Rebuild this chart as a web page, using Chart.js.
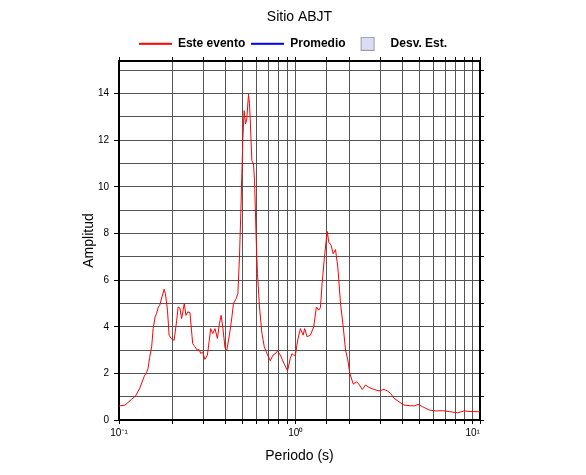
<!DOCTYPE html>
<html>
<head>
<meta charset="utf-8">
<script src="https://cdn.jsdelivr.net/npm/chart.js@4.4.1/dist/chart.umd.min.js"></script>
<style>
  html, body { margin: 0; padding: 0; background: #fff; }
  canvas { display: block; }
</style>
</head>
<body>
<canvas id="myChart" width="586" height="475"></canvas>
<script>
const chartTitle = "Sitio ABJT";
const seriesNames = ["Este evento", "Promedio", "Desv. Est."];

// periodo (s)
const periods = [
  0.100, 0.108, 0.118, 0.124, 0.131, 0.139, 0.143, 0.146, 0.149, 0.153,
  0.156, 0.160, 0.163, 0.167, 0.170, 0.175, 0.180, 0.183, 0.188, 0.192,
  0.197, 0.205, 0.212, 0.216, 0.221, 0.226, 0.234, 0.239, 0.245, 0.252,
  0.261, 0.269, 0.277, 0.284, 0.290, 0.297, 0.306, 0.316, 0.324, 0.330,
  0.339, 0.349, 0.360, 0.370, 0.378, 0.386, 0.398, 0.407, 0.421, 0.435,
  0.444, 0.460, 0.470, 0.480, 0.489, 0.495, 0.502, 0.510, 0.519, 0.528,
  0.540, 0.547, 0.552, 0.564, 0.576, 0.584, 0.597, 0.607, 0.623, 0.643,
  0.663, 0.687, 0.717, 0.742, 0.775, 0.788, 0.817, 0.860, 0.898, 0.931,
  0.952, 0.972, 0.994, 1.024, 1.061, 1.099, 1.122, 1.158, 1.209, 1.262,
  1.307, 1.347, 1.377, 1.408, 1.451, 1.504, 1.535, 1.584, 1.626, 1.676,
  1.727, 1.789, 1.853, 1.910, 1.968, 2.020, 2.112, 2.205, 2.272, 2.375,
  2.480, 2.590, 2.764, 2.951, 3.150, 3.293, 3.438, 3.591, 3.833, 4.091,
  4.465, 4.704, 4.913, 5.204, 5.672, 6.190, 6.756, 7.365, 8.221, 8.964,
  9.781, 10.68, 11.0
];

const amplitudes = [
  0.60, 0.64, 0.89, 1.03, 1.36, 1.88, 2.03, 2.21, 2.68, 3.14,
  3.92, 4.42, 4.57, 4.85, 4.92, 5.28, 5.61, 5.42, 4.71, 3.64,
  3.50, 3.42, 4.28, 4.85, 4.80, 4.35, 5.00, 4.49, 4.64, 4.60,
  3.28, 3.14, 3.00, 3.02, 2.85, 2.92, 2.60, 2.78, 3.42, 3.92,
  3.71, 3.92, 3.50, 4.14, 4.49, 4.00, 3.07, 3.00, 3.64, 4.42,
  5.00, 5.21, 5.42, 6.99, 8.99, 10.56, 12.13, 13.27, 12.70, 12.91,
  13.98, 13.56, 12.91, 11.13, 10.99, 10.27, 7.71, 6.28, 4.85, 3.71,
  3.14, 2.85, 2.54, 2.78, 2.88, 2.97, 2.78, 2.40, 2.11, 2.65,
  2.85, 2.78, 2.78, 3.42, 3.92, 3.64, 3.92, 3.57, 3.64, 4.00,
  4.85, 4.71, 4.82, 5.85, 6.99, 8.09, 7.63, 7.49, 7.13, 7.31,
  6.56, 5.00, 4.00, 3.00, 2.57, 2.00, 1.54, 1.64, 1.54, 1.31,
  1.50, 1.40, 1.31, 1.25, 1.31, 1.25, 1.14, 0.93, 0.78, 0.64,
  0.61, 0.61, 0.67, 0.57, 0.43, 0.39, 0.40, 0.36, 0.31, 0.39,
  0.36, 0.36, 0.34
];

// no data drawn for these two, they only appear in the legend
const promedio = [];
const desvEst = [];

const xMin = 0.1, xMax = 11.0;
const yMin = 0, yMax = 15.4;
const decadeLabels = { "-1": "10\u207B\u00B9", "0": "10\u2070", "1": "10\u00B9" };

const FONT = "'Liberation Sans', Arial, Helvetica, sans-serif";
const GRID = "#555";

function lineIcon(color) {
  let c = document.createElement("canvas");
  c.width = 33; c.height = 12;
  let g = c.getContext("2d");
  g.strokeStyle = color; g.lineWidth = 2;
  g.beginPath(); g.moveTo(0, 6); g.lineTo(33, 6); g.stroke();
  return c;
}

function boxIcon() {
  let c = document.createElement("canvas");
  c.width = 33; c.height = 14;
  let g = c.getContext("2d");
  g.fillStyle = "#dcdcf5";
  g.fillRect(9, 0, 14, 14);
  g.strokeStyle = "#9a9aa8"; g.lineWidth = 1;
  g.strokeRect(9.5, 0.5, 13, 13);
  return c;
}

const icons = [lineIcon("#ff0000"), lineIcon("#0000ff"), boxIcon()];

function decadeLabel(v) {
  let e = Math.log10(v);
  let r = Math.round(e);
  if (Math.abs(e - r) < 1e-6 && decadeLabels[String(r)]) return decadeLabels[String(r)];
  return "";
}

let ctx = document.getElementById("myChart").getContext("2d");
let myChart = new Chart(ctx, {
  type: "line",
  data: {
    datasets: [
      {
        label: seriesNames[0],
        data: periods.map((p, i) => ({ x: p, y: amplitudes[i] })),
        borderColor: "#ff0000",
        borderWidth: 1,
        pointRadius: 0,
        tension: 0,
        fill: false,
      },
      {
        label: seriesNames[1],
        data: promedio,
        borderColor: "#0000ff",
        borderWidth: 2,
        pointRadius: 0,
      },
      {
        label: seriesNames[2],
        data: desvEst,
        backgroundColor: "#dcdcf5",
        borderColor: "#9a9aa8",
        pointRadius: 0,
      },
    ],
  },
  options: {
    responsive: false,
    animation: false,
    devicePixelRatio: 1,
    layout: { padding: 0 },
    plugins: {
      title: {
        display: true,
        fullSize: false,
        text: chartTitle,
        color: "#000",
        font: { family: FONT, size: 14, weight: "normal", lineHeight: 1.2 },
        padding: { top: 9, bottom: 6 },
      },
      legend: {
        display: true,
        labels: {
          usePointStyle: true,
          pointStyleWidth: 33,
          boxHeight: 12,
          padding: 6,
          color: "#000",
          font: { family: FONT, size: 12, weight: "bold" },
          generateLabels: (chart) =>
            chart.data.datasets.map((ds, i) => ({
              text: ds.label,
              pointStyle: icons[i],
              fillStyle: "transparent",
              strokeStyle: "transparent",
              lineWidth: 0,
              hidden: false,
              datasetIndex: i,
              fontColor: "#000",
            })),
        },
        onClick: null,
      },
      tooltip: { enabled: false },
    },
    scales: {
      x: {
        type: "logarithmic",
        position: "bottom",
        min: xMin,
        max: xMax,
        border: { display: true, color: "#000", width: 2 },
        grid: { color: GRID, lineWidth: 1, tickLength: 4, tickColor: "#000" },
        ticks: {
          autoSkip: false,
          maxRotation: 0,
          padding: 3,
          color: "#000",
          font: { family: FONT, size: 10 },
          callback: (v) => decadeLabel(v),
        },
        title: {
          display: true,
          text: "Periodo (s)",
          color: "#000",
          font: { family: FONT, size: 14, lineHeight: 1.2 },
          padding: { top: 0, bottom: 10.6 },
        },
        afterFit: (s) => { s.height = 55; },
      },
      x2: {
        type: "logarithmic",
        position: "top",
        min: xMin,
        max: xMax,
        border: { display: true, color: "#000", width: 2 },
        grid: { drawOnChartArea: false, tickLength: 4, tickColor: "#000" },
        ticks: { display: false, autoSkip: false },
        afterFit: (s) => { s.height = 1.2; },
      },
      y: {
        type: "linear",
        position: "left",
        min: yMin,
        max: yMax,
        border: { display: true, color: "#000", width: 2 },
        grid: {
          color: GRID,
          lineWidth: 1,
          tickLength: 5,
          tickColor: (c) => (c.tick && c.tick.value % 2 === 0 ? "#000" : "rgba(0,0,0,0)"),
        },
        ticks: {
          stepSize: 1,
          includeBounds: false,
          padding: 5,
          color: "#000",
          font: { family: FONT, size: 10 },
          callback: (v) => (v % 2 === 0 ? String(v) : ""),
        },
        title: {
          display: true,
          text: "Amplitud",
          color: "#000",
          font: { family: FONT, size: 14, lineHeight: 1.2 },
          padding: { top: 80.6, bottom: 0 },
        },
        afterFit: (s) => { s.width = 119; },
      },
      y2: {
        type: "linear",
        position: "right",
        min: yMin,
        max: yMax,
        border: { display: true, color: "#000", width: 2 },
        grid: { drawOnChartArea: false, tickLength: 4, tickColor: "#000" },
        ticks: { display: false, stepSize: 1, includeBounds: false },
        afterFit: (s) => { s.width = 106; },
      },
    },
  },
});
</script>
</body>
</html>
